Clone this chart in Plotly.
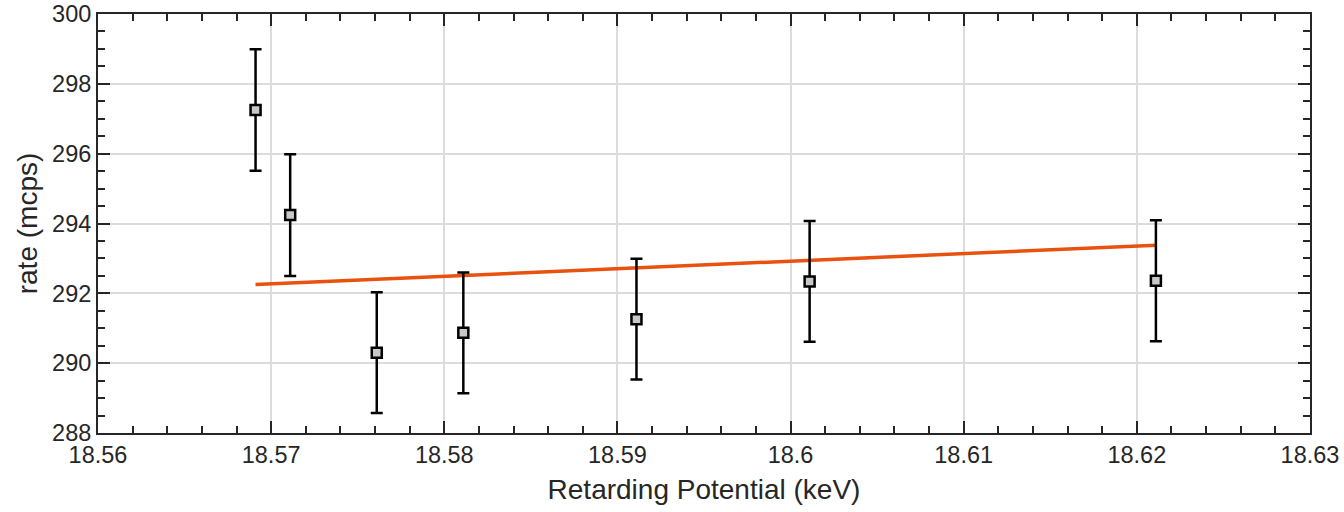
import plotly.graph_objects as go

qU = [18.5691, 18.5711, 18.5761, 18.5811, 18.5911, 18.6011, 18.6211]
rate = [297.25, 294.24, 290.30, 290.87, 291.26, 292.34, 292.36]
rate_err = [1.74, 1.74, 1.73, 1.73, 1.73, 1.73, 1.73]
fit_x = [18.5691, 18.6211]
fit_y = [292.25, 293.38]
x_ticks = [18.56, 18.57, 18.58, 18.59, 18.60, 18.61, 18.62, 18.63]
x_ticktext = ["18.56", "18.57", "18.58", "18.59", "18.6", "18.61", "18.62", "18.63"]

font = "Liberation Sans, Arial, Helvetica, sans-serif"
fig = go.Figure()
fig.add_trace(go.Scatter(x=fit_x, y=fit_y, mode="lines",
                         line=dict(color="#E8510E", width=3.5), showlegend=False))
fig.add_trace(go.Scatter(x=qU, y=rate, mode="markers",
                         error_y=dict(type="data", array=rate_err, color="black",
                                      thickness=2.5, width=6),
                         marker=dict(symbol="square", size=10, color="#c8c8c8",
                                     line=dict(color="black", width=2.5)),
                         showlegend=False))

axis_common = dict(showline=True, linecolor="#262626", linewidth=2, mirror="allticks",
                   ticks="inside", ticklen=12, tickwidth=2, tickcolor="#262626",
                   showgrid=True, gridcolor="#dcdcdc", gridwidth=1.5, zeroline=False,
                   tickfont=dict(family=font, size=23.5, color="#262626"))
fig.update_xaxes(range=[18.56, 18.63], tickvals=x_ticks, ticktext=x_ticktext,
                 automargin="bottom",
                 minor=dict(dtick=0.002, tick0=18.56, ticks="inside", ticklen=7, tickwidth=2,
                            tickcolor="#262626", showgrid=False),
                 title=dict(text="Retarding Potential (keV)", standoff=12,
                            font=dict(family=font, size=28, color="#262626")),
                 **axis_common)
fig.update_yaxes(range=[288, 300], dtick=2, tick0=288, automargin=False,
                 minor=dict(dtick=0.5, tick0=288, ticks="inside", ticklen=7, tickwidth=2,
                            tickcolor="#262626", showgrid=False),
                 title=dict(text="rate (mcps)", standoff=6,
                            font=dict(family=font, size=28, color="#262626")),
                 **axis_common)
fig.update_layout(width=1344, height=512, margin=dict(l=98, r=34, t=14, b=79),
                  plot_bgcolor="white", paper_bgcolor="white")
fig.write_html("out.html")
